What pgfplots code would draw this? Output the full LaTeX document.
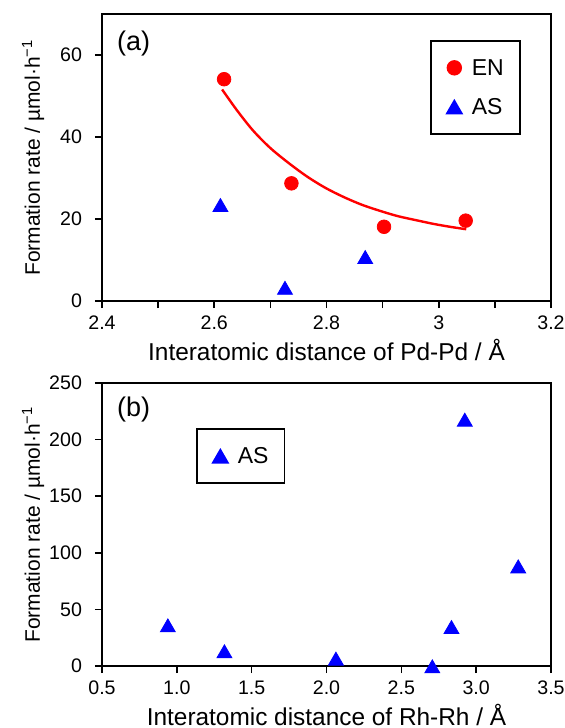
\documentclass[border=0pt]{standalone}
\usepackage{fontspec}
\setmainfont{Liberation Sans}
\usepackage{pgfplots}
\pgfplotsset{compat=1.18}
\definecolor{exred}{RGB}{255,0,0}
\definecolor{exblue}{RGB}{0,0,255}

\pgfplotsset{
  panel/.style={
    scale only axis, width=224.5pt, clip=false,
    axis line style={line width=0.9pt},
    tick style={black, line width=0.8pt},
    tick align=outside, xtick pos=bottom, ytick pos=left,
    major tick length=3.5pt, minor tick length=3.5pt,
    tick label style={font=\fontsize{9.8}{11}\selectfont},
    yticklabel style={xshift=-3pt},
    xticklabel style={yshift=-0.5pt},
    /pgf/number format/assume math mode=true,
    xlabel style={font=\fontsize{12.2}{14}\selectfont,
      at={([yshift=-29.5pt]axis description cs:0.5,0)}, anchor=base},
    ylabel style={font=\fontsize{10.5}{12}\selectfont,
      at={([xshift=-31pt]axis description cs:0,0.5)}, anchor=base},
    legend style={draw=black, line width=0.9pt, anchor=north west,
      inner xsep=8pt, inner ysep=9.5pt, row sep=11.5pt, column sep=5pt,
      nodes={inner sep=0pt, text depth=0pt},
      font=\fontsize{11.5}{13}\selectfont},
    legend cell align=left,
    legend image code/.code={\draw[##1, only marks] plot coordinates {(0pt,0pt)};},
  },
  enmark/.style={only marks, mark=*, mark size=3.4pt, color=exred},
  asmark/.style={only marks, mark=triangle*, mark size=4.3pt, color=exblue,
    mark options={yshift=-1.25pt}},
}

\begin{document}
\begin{tikzpicture}
\useasboundingbox (-51pt,-213.5pt) rectangle (231.5pt,150.5pt);

% (a) Pd
\begin{axis}[panel, at={(0pt,0pt)}, anchor=origin, height=143.5pt,
  xmin=2.4, xmax=3.2, ymin=0, ymax=70,
  xtick={2.4,2.6,2.8,3,3.2}, minor xtick={2.5,2.7,2.9,3.1},
  ytick={0,20,40,60},
  xlabel={Interatomic distance of Pd-Pd / Å},
  ylabel={Formation rate / µmol·h\textsuperscript{−1}},
  legend style={at={(rel axis cs:0.7305,0.9094)}}]
\addplot[enmark] coordinates {(2.6175,54.1) (2.7375,28.7) (2.9025,18.1) (3.048,19.6)};
\addlegendentry{EN}
\addplot[asmark] coordinates {(2.611,23.5) (2.726,3.3) (2.869,10.8)};
\addlegendentry{AS}
\addplot[exred, line width=1.2pt, smooth, forget plot] coordinates {
  (2.614,51.6) (2.64,46.6) (2.669,41.6) (2.70,37.3) (2.734,33.5)
  (2.766,30.3) (2.798,27.6) (2.83,25.4) (2.8625,23.5) (2.895,22.0)
  (2.927,20.7) (2.96,19.7) (2.991,18.8) (3.02,18.1) (3.049,17.5)};
\node[anchor=base west, font=\fontsize{13.5}{15}\selectfont] at (rel axis cs:0.018,0.8746) {(a)};
\end{axis}

% (b) Rh
\begin{axis}[panel, at={(0pt,-182.5pt)}, anchor=origin, height=141.5pt,
  xmin=0.5, xmax=3.5, ymin=0, ymax=250,
  xtick={0.5,1,...,3.5}, ytick={0,50,...,250},
  xticklabel style={/pgf/number format/.cd, fixed, fixed zerofill, precision=1},
  xlabel={Interatomic distance of Rh-Rh / Å},
  ylabel={Formation rate / µmol·h\textsuperscript{−1}},
  legend style={at={(rel axis cs:0.2094,0.841)}}]
\addplot[asmark] coordinates {(0.94,36.2) (1.318,13.3) (2.063,6.8) (2.707,0)
  (2.835,34.7) (2.924,217.9) (3.281,88.3)};
\addlegendentry{AS}
\node[anchor=base west, font=\fontsize{13.5}{15}\selectfont] at (rel axis cs:0.018,0.88) {(b)};
\end{axis}
\end{tikzpicture}
\end{document}
